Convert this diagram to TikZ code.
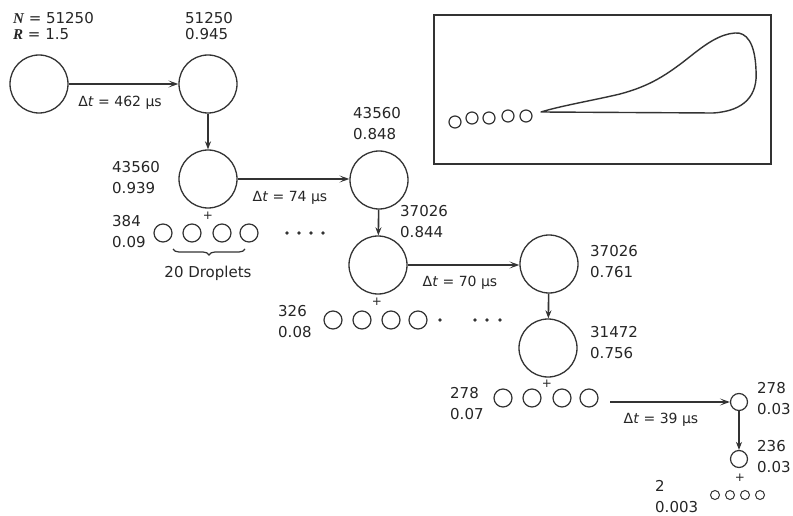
\documentclass[tikz,border=0pt]{standalone}
\usepackage{fontspec}
\setmainfont{DejaVu Sans}
\newfontfamily\serf{Liberation Serif}
\usetikzlibrary{arrows.meta,decorations.pathreplacing}
\begin{document}
\begin{tikzpicture}[x=1pt,y=-1pt,
  every node/.style={font=\fontsize{15}{21}\selectfont, text=black!85, inner sep=0pt},
  big/.style={circle, draw=black!80, minimum size=58pt, line width=1.3pt},
  drop/.style={circle, draw=black!80, minimum size=18pt, line width=1.2pt},
  small/.style={circle, draw=black!80, minimum size=17pt, line width=1.2pt},
  tiny/.style={circle, draw=black!80, minimum size=9pt, line width=1pt},
  harr/.style={draw=black!80, line width=1.5pt, -{Stealth[length=10pt,width=7pt,inset=5pt]}},
  varr/.style={draw=black!80, line width=1.6pt, -{Stealth[length=8pt,width=6pt]}},
  lab/.style={align=left, anchor=west},
  toplab/.style={align=left, anchor=west, font=\fontsize{15}{16}\selectfont},
  dt/.style={font=\fontsize{14}{16}\selectfont},
  plus/.style={font=\fontsize{12}{12}\selectfont},
  dotm/.style={fill=black!80},
]
\useasboundingbox (0,0) rectangle (793,516);
\fill[white] (0,0) rectangle (793,516);

% large bubbles
\node[big] (c1) at (39,84) {};
\node[big] (c2) at (208,84) {};
\node[big] (c3) at (208,179) {};
\node[big] (c4) at (379,180) {};
\node[big] (c5) at (378,265) {};
\node[big] (c6) at (549,264) {};
\node[big] (c7) at (548,348) {};
\node[small] (c8) at (739,402) {};
\node[small] (c9) at (739,459) {};

% labels
\node[toplab] (l1) at (13,26) {{\serf\bfseries\itshape N} = 51250\\{\serf\bfseries\itshape R} = 1.5};
\node[toplab] (l2) at (185,26) {51250\\0.945};
\node[lab] (l3) at (112,178) {43560\\0.939};
\node[lab] (l4) at (112,232) {384\\0.09};
\node[lab] (l5) at (353,124) {43560\\0.848};
\node[lab] (l6) at (400,222) {37026\\0.844};
\node[lab] (l7) at (278,322) {326\\0.08};
\node[lab] (l8) at (590,262) {37026\\0.761};
\node[lab] (l9) at (590,343) {31472\\0.756};
\node[lab] (l10) at (450,404) {278\\0.07};
\node[lab] (l11) at (757,399) {278\\0.03};
\node[lab] (l12) at (757,457) {236\\0.03};
\node[lab] (l13) at (655,497) {2\\0.003};

% time labels
\node[dt] (t1) at (120,103) {Δ\textit{t} = 462 μs};
\node[dt] (t2) at (290,198) {Δ\textit{t} = 74 μs};
\node[dt] (t3) at (460,283) {Δ\textit{t} = 70 μs};
\node[dt] (t4) at (661,420) {Δ\textit{t} = 39 μs};

% droplet rows
\foreach \x [count=\i] in {163,192,222,249} \node[drop] (a\i) at (\x,233) {};
\foreach \x [count=\i] in {333,362,391,418} \node[drop] (b\i) at (\x,320) {};
\foreach \x [count=\i] in {503,532,562,589} \node[drop] (d\i) at (\x,398) {};
\foreach \x [count=\i] in {715,730,745,760} \node[tiny] (e\i) at (\x,495) {};

% plus signs
\node[plus] (p1) at (208,216) {+};
\node[plus] (p2) at (377,302) {+};
\node[plus] (p3) at (547,384) {+};
\node[plus] (p4) at (740,478) {+};

% dots
\foreach \x in {287,299,311,323} \fill[dotm] (\x,233) circle (1.8pt);
\foreach \x in {440,475,487,500} \fill[dotm] (\x,320) circle (1.8pt);

% brace
\draw[black!80, line width=1.2pt, decorate, decoration={brace, mirror, amplitude=6pt}] (173,249) -- (245,249);
\node (drl) at (208,273) {20 Droplets};

% arrows
\draw[harr] (c1) -- (c2);
\draw[varr] (c2) -- (c3);
\draw[harr] (c3.east) -- (c3.east -| c4.west);
\draw[varr] (c4) -- (c5);
\draw[harr] (c5.east) -- (c5.east -| c6.west);
\draw[varr] (c6) -- (c7);
\coordinate (r3s) at (610,402);
\draw[harr] (r3s) -- (r3s -| c8.west);
\draw[varr] (c8) -- (c9);

% inset
\draw[black!80, line width=1.3pt] (434,15) rectangle (771,164);
\foreach \x/\y in {455/122,472/118,489/118,508/116,526/116}
  \draw[black!80, line width=1.2pt] (\x,\y) circle (6pt);
\draw[black!80, line width=1.4pt, line join=round] (541,112) -- (713,113)
  .. controls (745,111) and (758,95) .. (756,70)
  .. controls (755,42) and (746,32) .. (735,33)
  .. controls (720,34) and (706,44) .. (692,55)
  .. controls (667,75) and (650,86) .. (620,94)
  .. controls (595,100) and (560,106) .. (541,112) -- cycle;
\end{tikzpicture}
\end{document}
